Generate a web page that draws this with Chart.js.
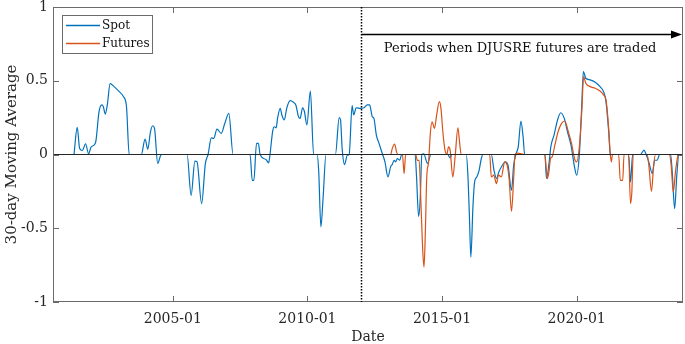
<!DOCTYPE html>
<html>
<head>
<meta charset="utf-8">
<script src="https://cdn.jsdelivr.net/npm/chart.js@4.4.1/dist/chart.umd.min.js"></script>
<style>
html, body { margin: 0; padding: 0; background: #fff; }
</style>
</head>
<body>
<canvas id="myChart" width="685" height="344"></canvas>
<script>
// Fechas en años decimales y valores de la media móvil de 30 días
const spotDates = [
  2001.33, 2001.45, 2001.54, 2001.64, 2001.76, 2001.87, 2001.97, 2002.13, 2002.26, 2002.36,
  2002.42, 2002.49, 2002.57, 2002.67, 2002.82, 2003.01, 2003.17, 2003.28, 2003.38, 2003.83,
  2003.97, 2004.07, 2004.17, 2004.25, 2004.32, 2004.44, 2004.54, 2004.58, 2005.53, 2005.68,
  2005.82, 2005.90, 2006.07, 2006.21, 2006.31, 2006.43, 2006.52, 2006.64, 2006.80, 2006.93,
  2007.08, 2007.24, 2007.87, 2007.95, 2008.01, 2008.11, 2008.18, 2008.24, 2008.46, 2008.56,
  2008.61, 2008.71, 2008.77, 2008.84, 2008.89, 2008.99, 2009.05, 2009.14, 2009.23, 2009.36,
  2009.48, 2009.57, 2009.67, 2009.73, 2009.82, 2009.89, 2009.98, 2010.11, 2010.23, 2010.36,
  2010.42, 2010.50, 2010.58, 2010.69, 2011.04, 2011.18, 2011.23, 2011.29, 2011.38, 2011.48,
  2011.55, 2011.66, 2011.72, 2011.81, 2011.97, 2012.10, 2012.22, 2012.31, 2012.41, 2012.47,
  2012.56, 2012.66, 2012.78, 2012.88, 2012.99, 2013.09, 2013.15, 2013.22, 2013.28, 2013.34,
  2013.43, 2013.50, 2014.00, 2014.05, 2014.13, 2014.19, 2014.25, 2014.32, 2014.46, 2014.59,
  2015.21, 2015.30, 2015.36, 2015.90, 2015.96, 2016.02, 2016.07, 2016.15, 2016.21, 2016.29,
  2016.37, 2016.46, 2016.52, 2016.83, 2016.93, 2017.02, 2017.11, 2017.24, 2017.35, 2017.45,
  2017.58, 2017.66, 2017.74, 2017.83, 2017.93, 2018.01, 2018.07, 2018.82, 2018.88, 2018.98,
  2019.04, 2019.16, 2019.29, 2019.41, 2019.54, 2019.66, 2019.79, 2019.91, 2020.00, 2020.10,
  2020.19, 2020.25, 2020.34, 2020.50, 2020.69, 2020.87, 2021.00, 2021.09, 2021.19, 2021.25,
  2021.93, 2022.00, 2022.08, 2022.37, 2022.50, 2022.58, 2022.68, 2022.81, 2022.90, 2022.99,
  2023.08, 2023.49, 2023.55, 2023.64, 2023.72, 2023.80, 2023.93
];
const spotValues = [
  0, 0.184, 0.04, 0.027, 0.073, 0.005, 0.052, 0.08, 0.29, 0.336,
  0.324, 0.274, 0.34, 0.48, 0.46, 0.426, 0.392, 0.324, 0, 0,
  0.104, 0.036, 0.154, 0.195, 0.177, -0.061, -0.01, 0, 0, -0.277,
  -0.045, -0.05, -0.333, -0.06, 0, 0.113, 0.109, 0.172, 0.143, 0.21,
  0.279, 0, 0, -0.175, -0.175, 0.075, 0.075, 0, -0.034, -0.057,
  0, 0.159, 0.188, 0.181, 0.245, 0.313, 0.268, 0.234, 0.313, 0.365,
  0.354, 0.336, 0.256, 0.245, 0.317, 0.29, 0.2, 0.43, 0, 0,
  -0.118, -0.49, -0.3, 0, 0, 0.25, 0.234, 0.04, -0.068, -0.005,
  0, 0.331, 0.268, 0.317, 0.313, 0.317, 0.336, 0.336, 0.256, 0.245,
  0.132, 0.075, 0.007, -0.05, -0.152, -0.084, -0.068, -0.039, -0.05, -0.027,
  -0.039, 0, 0, -0.14, -0.42, -0.3, 0, 0.005, -0.06, 0,
  0, -0.023, 0, 0, -0.14, -0.435, -0.696, -0.345, -0.186, -0.152,
  -0.113, -0.027, 0, 0, -0.107, -0.163, -0.118, -0.073, -0.05, -0.073,
  -0.243, -0.073, 0, 0.052, 0.227, 0.12, 0, 0, -0.163, -0.05,
  0.052, 0.132, 0.234, 0.283, 0.245, 0.154, 0.063, -0.073, -0.14, 0,
  0.336, 0.562, 0.517, 0.506, 0.49, 0.46, 0.426, 0.358, 0.154, 0,
  0, -0.186, 0, 0, 0.03, 0, -0.05, -0.129, -0.039, -0.039,
  0, 0, -0.118, -0.367, -0.14, 0, 0
];

const futuresDates = [
  2012.00, 2013.09, 2013.15, 2013.24, 2013.31, 2013.36, 2013.53, 2013.59, 2013.65, 2014.02,
  2014.08, 2014.15, 2014.21, 2014.28, 2014.33, 2014.38, 2014.43, 2014.50, 2014.57, 2014.63,
  2014.72, 2014.80, 2014.90, 2014.96, 2015.03, 2015.10, 2015.18, 2015.24, 2015.30, 2015.40,
  2015.49, 2015.59, 2015.65, 2015.71, 2016.77, 2016.83, 2016.92, 2017.02, 2017.10, 2017.20,
  2017.33, 2017.42, 2017.49, 2017.58, 2017.66, 2017.71, 2017.80, 2017.95, 2018.05, 2018.82,
  2018.86, 2018.91, 2018.97, 2019.03, 2019.09, 2019.19, 2019.31, 2019.44, 2019.56, 2019.69,
  2019.81, 2019.87, 2019.94, 2020.00, 2020.10, 2020.19, 2020.26, 2020.34, 2020.50, 2020.69,
  2020.87, 2021.00, 2021.09, 2021.19, 2021.25, 2021.29, 2021.33, 2021.56, 2021.62, 2021.71,
  2021.76, 2021.93, 2022.00, 2022.05, 2022.10, 2022.62, 2022.68, 2022.78, 2022.86, 2022.93,
  2023.45, 2023.51, 2023.59, 2023.67, 2023.75, 2023.80, 2023.93
];
const futuresValues = [
  0, 0, 0.04, 0.07, 0.018, 0, 0, -0.13, 0, 0,
  -0.04, -0.04, -0.3, -0.64, -0.764, -0.526, -0.163, -0.05, 0.154, 0.222,
  0.177, 0.268, 0.358, 0.313, 0.154, 0.04, 0, 0.052, 0.03, -0.152,
  -0.005, 0.181, 0.086, 0, 0, -0.152, -0.14, -0.197, -0.14, -0.152,
  -0.05, -0.073, -0.163, -0.385, -0.163, 0, 0.01, 0.005, 0, 0,
  -0.073, -0.163, -0.118, -0.027, -0.016, 0.063, 0.154, 0.211, 0.227, 0.154,
  0.075, 0.018, -0.039, -0.05, 0.052, 0.29, 0.528, 0.483, 0.46, 0.449,
  0.43, 0.404, 0.37, 0.177, 0, -0.05, 0, 0, -0.175, -0.175,
  0, 0, -0.333, -0.254, 0, 0, -0.073, -0.25, -0.073, 0,
  0, -0.073, -0.254, -0.118, -0.016, 0, 0
];

const xTicks = [2005, 2010, 2015, 2020];
const yTicks = [-1, -0.5, 0, 0.5, 1];
const futuresStart = 2012.0;
const nota = 'Periods when DJUSRE futures are traded';

const azul = '#0072BD';
const naranja = '#D95319';
const fuente = "'DejaVu Serif', serif";

const toPoints = (xs, ys) => xs.map((x, i) => ({ x: x, y: ys[i] }));

// Dibuja la caja, las marcas hacia dentro, la línea en cero, la anotación y la leyenda
const decoraciones = {
  id: 'decoraciones',
  afterDatasetsDraw(chart) {
    const { ctx, chartArea: a, scales } = chart;
    const xs = scales.x, ys = scales.y;
    ctx.save();

    // línea horizontal en cero
    const y0 = ys.getPixelForValue(0);
    ctx.strokeStyle = '#262626';
    ctx.lineWidth = 1.2;
    ctx.beginPath();
    ctx.moveTo(a.left, y0);
    ctx.lineTo(a.right, y0);
    ctx.stroke();

    // caja y marcas
    ctx.strokeStyle = '#6b6b6b';
    ctx.lineWidth = 1;
    ctx.strokeRect(a.left + 0.5, a.top + 0.5, a.right - a.left - 1, a.bottom - a.top - 1);
    ctx.beginPath();
    xTicks.forEach(v => {
      const px = Math.round(xs.getPixelForValue(v)) + 0.5;
      ctx.moveTo(px, a.bottom); ctx.lineTo(px, a.bottom - 6);
      ctx.moveTo(px, a.top); ctx.lineTo(px, a.top + 6);
    });
    yTicks.forEach(v => {
      const py = Math.round(ys.getPixelForValue(v)) + 0.5;
      ctx.moveTo(a.left, py); ctx.lineTo(a.left + 6, py);
      ctx.moveTo(a.right, py); ctx.lineTo(a.right - 6, py);
    });
    ctx.stroke();

    // línea punteada del inicio de futuros
    const xf = Math.round(xs.getPixelForValue(futuresStart)) + 0.5;
    ctx.strokeStyle = '#000';
    ctx.lineWidth = 1.5;
    ctx.setLineDash([1.5, 1.5]);
    ctx.beginPath();
    ctx.moveTo(xf, a.top);
    ctx.lineTo(xf, a.bottom);
    ctx.stroke();
    ctx.setLineDash([]);

    // flecha
    const ya = Math.round(ys.getPixelForValue(0.818)) + 0.5;
    const xEnd = a.right - 1;
    ctx.lineWidth = 1.5;
    ctx.beginPath();
    ctx.moveTo(xf, ya);
    ctx.lineTo(xEnd - 8, ya);
    ctx.stroke();
    ctx.fillStyle = '#000';
    ctx.beginPath();
    ctx.moveTo(xEnd, ya);
    ctx.lineTo(xEnd - 11, ya - 4);
    ctx.lineTo(xEnd - 11, ya + 4);
    ctx.closePath();
    ctx.fill();

    // texto de la anotación
    ctx.fillStyle = '#111';
    ctx.font = '13px ' + fuente;
    ctx.textAlign = 'center';
    ctx.textBaseline = 'middle';
    ctx.fillText(nota, xs.getPixelForValue(2017.9), ys.getPixelForValue(0.72));

    // leyenda
    const lx = a.left + 9, ly = a.top + 8;
    ctx.fillStyle = '#fff';
    ctx.fillRect(lx, ly, 91, 39);
    ctx.strokeStyle = '#6b6b6b';
    ctx.lineWidth = 1;
    ctx.strokeRect(lx + 0.5, ly + 0.5, 90, 38);
    ctx.font = '12px ' + fuente;
    ctx.textAlign = 'left';
    chart.data.datasets.forEach((ds, i) => {
      const yy = ly + 10.5 + i * 18;
      ctx.strokeStyle = ds.borderColor;
      ctx.lineWidth = 1.5;
      ctx.beginPath();
      ctx.moveTo(lx + 4, yy);
      ctx.lineTo(lx + 38, yy);
      ctx.stroke();
      ctx.fillStyle = '#111';
      ctx.fillText(ds.label, lx + 40, yy);
    });

    ctx.restore();
  }
};

const ctx = document.getElementById('myChart').getContext('2d');

new Chart(ctx, {
  type: 'line',
  data: {
    datasets: [
      {
        label: 'Spot',
        data: toPoints(spotDates, spotValues),
        borderColor: azul,
        borderWidth: 1.2,
        pointRadius: 0,
        cubicInterpolationMode: 'monotone',
        order: 2
      },
      {
        label: 'Futures',
        data: toPoints(futuresDates, futuresValues),
        borderColor: naranja,
        borderWidth: 1.2,
        pointRadius: 0,
        cubicInterpolationMode: 'monotone',
        order: 1
      }
    ]
  },
  options: {
    responsive: false,
    animation: false,
    devicePixelRatio: 1,
    layout: { padding: { top: 7, right: 2, left: 0, bottom: 0 } },
    plugins: {
      legend: { display: false },
      tooltip: { enabled: false }
    },
    scales: {
      x: {
        type: 'linear',
        min: 2000.55,
        max: 2023.95,
        grid: { display: false, drawTicks: false },
        border: { display: false },
        afterBuildTicks: scale => { scale.ticks = xTicks.map(v => ({ value: v })); },
        afterFit: scale => {
          scale.height = 42;
          scale.paddingLeft = 0;
          scale.paddingRight = 0;
        },
        ticks: {
          padding: 9,
          color: '#262626',
          font: { family: fuente, size: 14 },
          maxRotation: 0,
          callback: v => v + '-01'
        },
        title: {
          display: true,
          text: 'Date',
          color: '#262626',
          font: { family: fuente, size: 14 },
          padding: { top: 0, bottom: -2 }
        }
      },
      y: {
        min: -1,
        max: 1,
        grid: { display: false, drawTicks: false },
        border: { display: false },
        afterBuildTicks: scale => { scale.ticks = yTicks.map(v => ({ value: v })); },
        afterFit: scale => {
          scale.width = 53;
          scale.paddingTop = 0;
          scale.paddingBottom = 0;
        },
        ticks: {
          padding: 5,
          color: '#262626',
          font: { family: fuente, size: 14 },
          callback: v => String(v)
        },
        title: {
          display: true,
          text: '30-day Moving Average',
          color: '#262626',
          font: { family: fuente, size: 15 },
          padding: { top: 3, bottom: 0 }
        }
      }
    }
  },
  plugins: [decoraciones]
});
</script>
</body>
</html>
